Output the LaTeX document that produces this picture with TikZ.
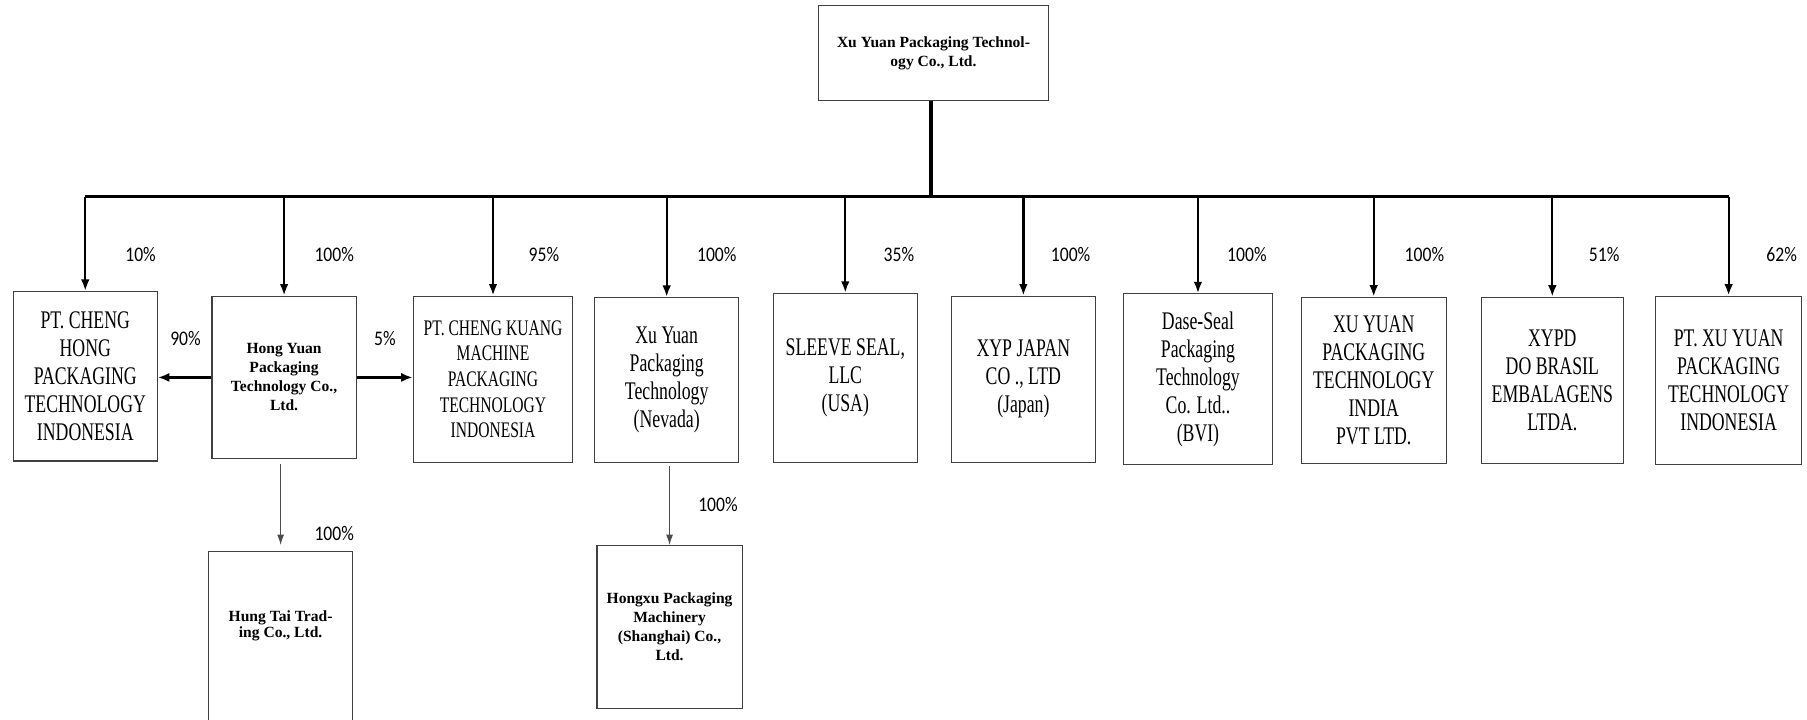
\documentclass[tikz,border=0pt]{standalone}
\usepackage{fontspec}
\setmainfont{Liberation Serif}
\newfontfamily\condserif[FakeStretch=0.7]{Liberation Serif}
\newfontfamily\pctsans[FakeStretch=0.85]{Carlito}
\usepackage{tikz}
\usetikzlibrary{arrows.meta}

\begin{document}
\begin{tikzpicture}[x=1pt, y=-1pt,
	orgbox/.style={draw=black!75, line width=1pt, align=center, inner sep=2pt},
	namebox/.style={orgbox, font=\condserif\fontsize{22}{24.3}\selectfont},
	boldbox/.style={orgbox, font=\bfseries\fontsize{13.5}{16.5}\selectfont},
	pct/.style={font=\pctsans\fontsize{18}{20}\selectfont},
	bus/.style={line width=3pt},
	drop/.style={line width=2pt, -{Latex[length=10pt,width=7.5pt]}},
	side/.style={line width=2.5pt, -{Latex[length=10pt,width=8pt]}},
	lowarrow/.style={draw=black!70, line width=1pt, -{Latex[length=9pt,width=6pt]}}]
			    		\useasboundingbox (0,0) rectangle (1568,624);
			    		\clip (0,0) rectangle (1568,624);
			    		\node[boldbox, minimum width=199pt, minimum height=82pt] (xuyuan) at (810,46) {Xu Yuan Packaging Technol-\\ogy Co., Ltd.};
			    		\node[namebox, minimum width=125pt, minimum height=147pt] (chenghong) at (74,326.5) {PT. CHENG\\HONG\\PACKAGING\\TECHNOLOGY\\INDONESIA};
			    		\node[boldbox, minimum width=125pt, minimum height=141pt] (hongyuan) at (246.5,327.5) {Hong Yuan\\Packaging\\Technology Co.,\\Ltd.};
			    		\node[namebox, minimum width=138.5pt, minimum height=144pt, font=\condserif\fontsize{19.3}{22.3}\selectfont] (chengkuang) at (427.8,329) {PT. CHENG KUANG\\MACHINE\\PACKAGING\\TECHNOLOGY\\INDONESIA};
			    		\node[namebox, minimum width=125pt, minimum height=143pt] (nevada) at (578.5,329.7) {Xu Yuan\\Packaging\\Technology\\(Nevada)};
			    		\node[namebox, minimum width=125pt, minimum height=146.5pt] (sleeveseal) at (733.5,327.8) {SLEEVE SEAL,\\LLC\\(USA)};
			    		\node[namebox, minimum width=125pt, minimum height=144pt] (xypjapan) at (888,329) {XYP JAPAN\\CO ., LTD\\(Japan)};
			    		\node[namebox, minimum width=129pt, minimum height=148pt] (daseseal) at (1039.5,329) {Dase-Seal\\Packaging\\Technology\\Co. Ltd..\\(BVI)};
			    		\node[namebox, minimum width=126pt, minimum height=144pt] (xyindia) at (1192,330) {XU YUAN\\PACKAGING\\TECHNOLOGY\\INDIA\\PVT LTD.};
			    		\node[namebox, minimum width=123pt, minimum height=144pt] (xypd) at (1347,330) {XYPD\\DO BRASIL\\EMBALAGENS\\LTDA.};
			    		\node[namebox, minimum width=126.5pt, minimum height=146pt] (ptxuyuan) at (1500,330) {PT. XU YUAN\\PACKAGING\\TECHNOLOGY\\INDONESIA};
			    		\node[orgbox, minimum width=125pt, minimum height=200pt, anchor=north] (hungtai) at (243.5,478) {};
			    		\node[font=\bfseries\fontsize{13.5}{14.5}\selectfont, align=center] (hungtaitext) at (243.5,543) {Hung Tai Trad-\\ing Co., Ltd.};
			    		\node[boldbox, minimum width=126pt, minimum height=141pt] (hongxu) at (581,544) {Hongxu Packaging\\Machinery\\(Shanghai) Co.,\\Ltd.};
			    		\coordinate (fork) at (808,170.7);
			    		\draw[bus] (xuyuan.south -| fork) -- (fork);
			    		\draw[bus] (chenghong.north |- fork) -- (ptxuyuan.north |- fork);
			    		\draw[drop] (chenghong.north |- fork) -- (chenghong.north);
			    		\draw[drop] (hongyuan.north |- fork) -- (hongyuan.north);
			    		\draw[drop] (chengkuang.north |- fork) -- (chengkuang.north);
			    		\draw[drop] (nevada.north |- fork) -- (nevada.north);
			    		\draw[drop] (sleeveseal.north |- fork) -- (sleeveseal.north);
			    		\draw[drop] (xypjapan.north |- fork) -- (xypjapan.north);
			    		\draw[drop] (daseseal.north |- fork) -- (daseseal.north);
			    		\draw[drop] (xyindia.north |- fork) -- (xyindia.north);
			    		\draw[drop] (xypd.north |- fork) -- (xypd.north);
			    		\draw[drop] (ptxuyuan.north |- fork) -- (ptxuyuan.north);
			    		\draw[side] (hongyuan.west) -- (hongyuan.west -| chenghong.east);
			    		\draw[side] (hongyuan.east) -- (hongyuan.east -| chengkuang.west);
			    		\draw[lowarrow, shorten <=4pt, shorten >=5pt] (hongyuan.south -| hungtai.north) -- (hungtai.north);
			    		\draw[lowarrow, shorten <=3pt] (nevada.south -| hongxu.north) -- (hongxu.north);
			    		\node[pct] (pchenghong) at (122,221) {10\%};
			    		\node[pct] (phongyuan) at (290,221) {100\%};
			    		\node[pct] (pchengkuang) at (472,221) {95\%};
			    		\node[pct] (pnevada) at (622,221) {100\%};
			    		\node[pct] (psleeveseal) at (780,221) {35\%};
			    		\node[pct] (pxypjapan) at (929,221) {100\%};
			    		\node[pct] (pdaseseal) at (1082,221) {100\%};
			    		\node[pct] (pxyindia) at (1236,221) {100\%};
			    		\node[pct] (pxypd) at (1392,221) {51\%};
			    		\node[pct] (pptxuyuan) at (1546,221) {62\%};
			    		\node[pct] (pleft) at (161,294) {90\%};
			    		\node[pct] (pright) at (334,294) {5\%};
			    		\node[pct] (phungtai) at (290,463) {100\%};
			    		\node[pct] (phongxu) at (623,438) {100\%};
			    	\end{tikzpicture}
\end{document}
